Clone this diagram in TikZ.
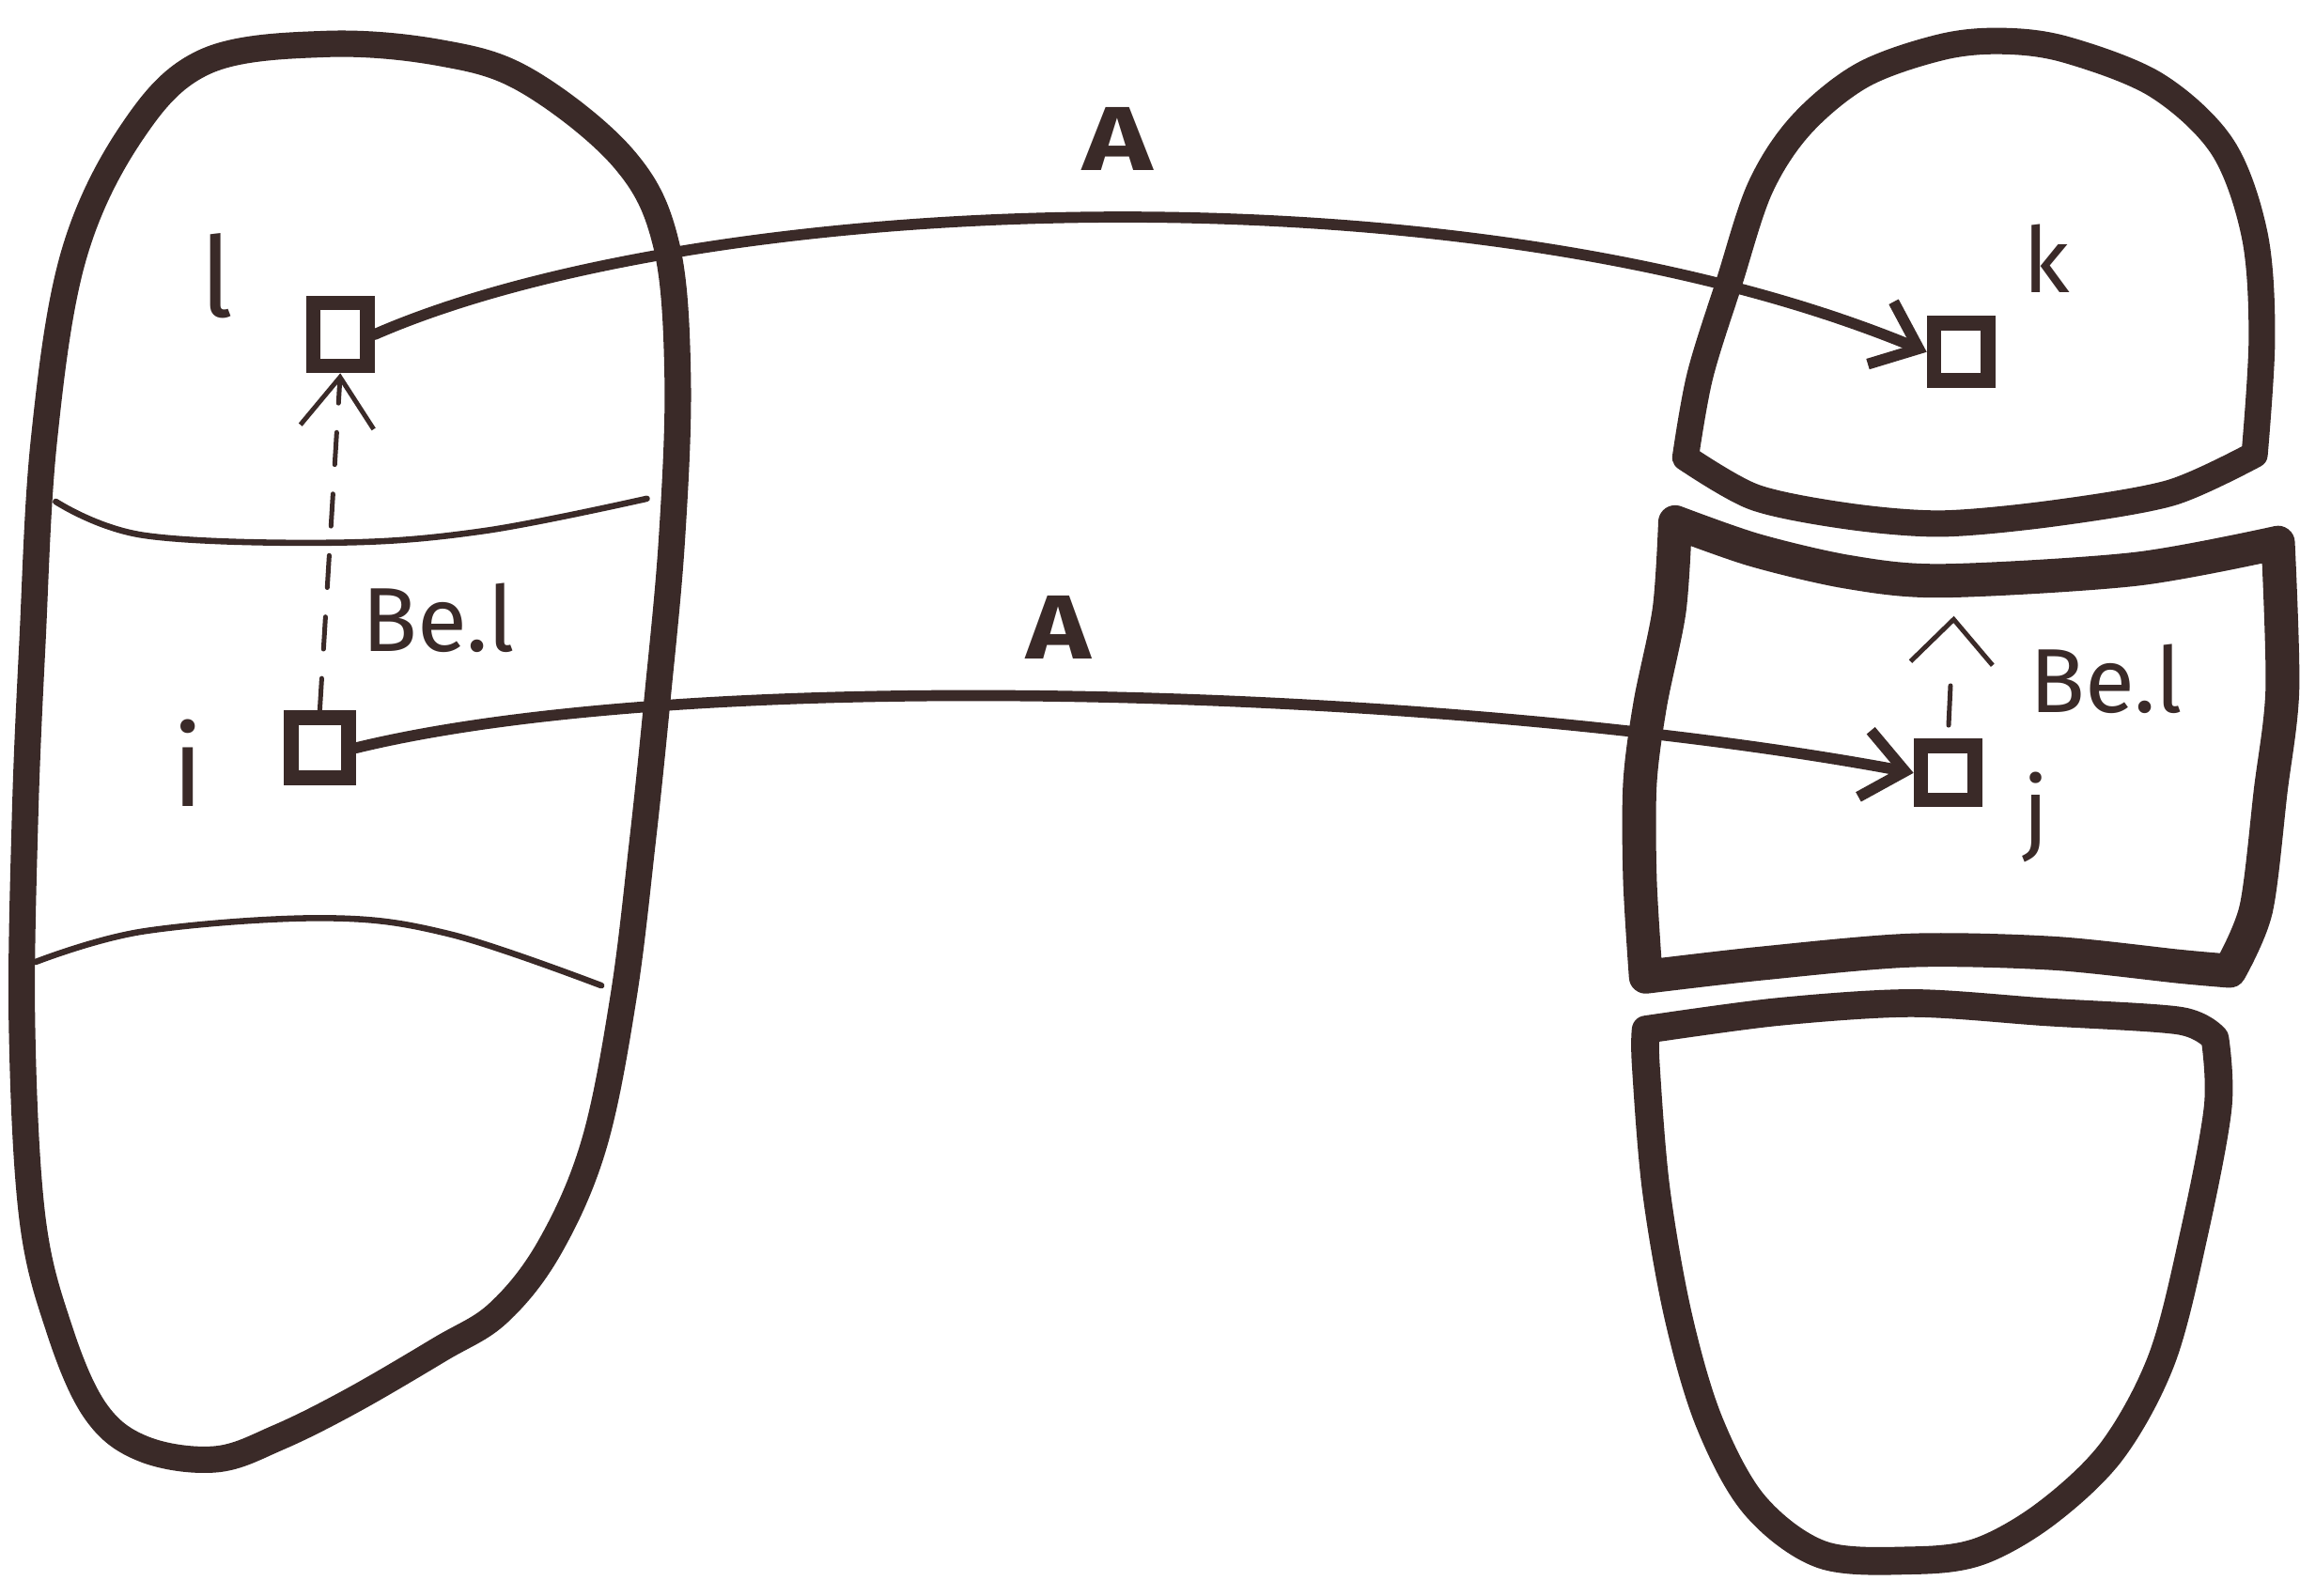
\documentclass[tikz,border=0pt]{standalone}
\usepackage{fontspec}
\setmainfont{Fira Sans}
\usetikzlibrary{arrows.meta}
\definecolor{ink}{RGB}{58,42,40}
\begin{document}
\begin{tikzpicture}[x=1pt,y=-1pt,
  inkline/.style={draw=ink, line cap=round, line join=round},
  blob/.style={inkline, line width=18pt},
  rblob/.style={inkline, line width=18pt},
  divider/.style={inkline, line width=4.2pt},
  sq/.style={draw=ink, line width=10pt, inner sep=0pt, line join=miter},
  conn/.style={inkline, line width=7.5pt, -{Straight Barb[length=28pt,width=46pt]}},
  belarrow/.style={inkline, line width=3.2pt, dash pattern=on 22pt off 20pt, -{Straight Barb[length=34pt,width=50pt]}},
  lab/.style={text=ink, inner sep=0pt},
  big/.style={lab, font=\fontsize{62}{66}\selectfont\bfseries},
  mid/.style={lab, font=\fontsize{62}{66}\selectfont},
  tall/.style={lab, font=\fontsize{76}{80}\selectfont}
]
\useasboundingbox (0,0) rectangle (1568,1088);
\fill[white] (0,0) rectangle (1568,1088);

% left blob
\draw[blob] plot[smooth cycle, tension=0.6] coordinates {
  (140,42) (222,30) (300,36) (359,55) (425,108) (454,166) (462,257) (458,368)
  (448,478) (438,574) (425,680) (405,780) (375,850) (340,895) (300,920) (240,955)
  (190,980) (147,995) (98,988) (65,962) (40,905) (22,830) (15,700) (17,560)
  (22,440) (30,300) (50,175) (90,90)};
% dividers in left blob
\draw[divider] plot[smooth, tension=0.6] coordinates {(38,342) (98,365) (229,370) (330,362) (441,340)};
\draw[divider] plot[smooth, tension=0.6] coordinates {(24,656) (98,635) (222,626) (307,637) (410,672)};

% top right blob
\draw[rblob] plot[smooth, tension=0.55] coordinates {
  (1149,312) (1159,256) (1179,192) (1200,128) (1228,85) (1270,51) (1324,32) (1366,28)
  (1409,34) (1470,58) (1515,100) (1537,160) (1542,230) (1537,310)}
  -- plot[smooth, tension=0.5] coordinates {(1537,310) (1480,336) (1400,350) (1324,357) (1260,352) (1196,339) (1149,312)};
% middle right blob
\draw[rblob, line width=23pt] plot[smooth, tension=0.5] coordinates {
  (1142,356) (1196,375) (1260,390) (1324,396) (1456,388) (1553,370)}
  -- plot[smooth, tension=0.5] coordinates {(1553,370) (1556,470) (1548,539) (1538,620) (1520,662)}
  -- plot[smooth, tension=0.5] coordinates {(1520,662) (1486,659) (1400,650) (1303,648) (1200,657) (1122,666)}
  -- plot[smooth, tension=0.5] coordinates {(1122,666) (1118,600) (1118,534) (1125,480) (1138,416) (1142,356)};
% bottom right blob
\draw[rblob, line width=19pt] plot[smooth, tension=0.5] coordinates {
  (1122,702) (1211,690) (1303,684) (1394,690) (1486,696) (1510,708)}
  -- plot[smooth, tension=0.55] coordinates {(1510,708) (1512,755) (1496,840) (1474,926) (1440,989)
  (1395,1032) (1349,1058) (1303,1064) (1242,1060) (1196,1026) (1165,969) (1144,897)
  (1129,811) (1122,726) (1122,702)};

% squares
\node[sq, minimum width=37pt, minimum height=43pt] (l) at (232,228) {};
\node[sq, minimum width=39pt, minimum height=41pt] (i) at (218,510) {};
\node[sq, minimum width=37pt, minimum height=39pt] (k) at (1337,240) {};
\node[sq, minimum width=37pt, minimum height=37pt] (j) at (1328,527) {};

% labels
\node[big] (A1) at (762,95) {\scalebox{1.3}[1]{A}};
\node[big] (A2) at (722,428) {\scalebox{1.2}[1]{A}};
\node[tall] (ll) at (148,188) {l};
\node[tall] (il) at (128,520) {i};
\node[mid] (bel1) at (299,421) {Be.l};
\node[mid] (kl) at (1395,176) {k};
\node[mid] (jl) at (1388,557) {j};
\node[mid] (bel2) at (1436,463) {Be.l};

% connectors
\draw[conn] (l.east) .. controls (480,130) and (1000,110) .. (k.west);
\draw[conn] (i.east) .. controls (480,452) and (1000,470) .. (j.west);
\draw[belarrow] (i.north) -- (l.south);
\coordinate (jtip) at (1332,420);
\draw[belarrow, shorten <=9pt, dash pattern=on 27pt off 60pt, -{Straight Barb[length=30pt,width=56pt]}] (j.north) -- (jtip);
\end{tikzpicture}
\end{document}
